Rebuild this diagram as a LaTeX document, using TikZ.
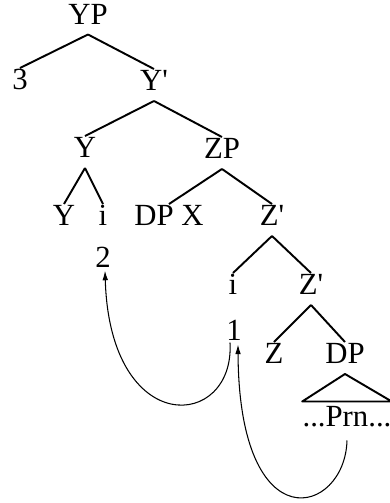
\documentclass[tikz,border=0pt]{standalone}
\usepackage{fontspec}
\setmainfont{Liberation Serif}
\usetikzlibrary{arrows.meta}

\begin{document}
\begin{tikzpicture}[
		catnode/.style={
		% The size:
		inner xsep=1pt,
		inner ysep=5.5pt,
		text height=0.68em,
		text depth=0pt,
		% Font
		font=\fontsize{17.5}{21}\selectfont
		},
		wordnode/.style={
		catnode,
		inner xsep=0pt,
		inner ysep=7.5pt
		},
		branch/.style={line width=1.1pt, line join=round},
		moveline/.style={line width=0.6pt, -{Latex[length=5.5pt,width=3.2pt]}}
	]
	\useasboundingbox (0,0) rectangle (7.78,10.06);

	\node (YP)[catnode] at (1.76,9.69) {YP};
	\node (three)[catnode] at (0.40,8.38) {3};
	\node (Ybar)[catnode] at (3.08,8.36) {Y\textquotesingle};
	\node (Y)[catnode] at (1.70,7.02) {Y};
	\node (ZP)[catnode] at (4.44,7.00) {ZP};
	\node (Yhead)[catnode] at (1.28,5.66) {Y};
	\node (iY)[catnode] at (2.06,5.66) {i};
	\node (DPX)[catnode] at (3.38,5.66) {DP X};
	\node (Zbar)[catnode] at (5.44,5.66) {Z\textquotesingle};
	\node (two)[catnode] at (2.06,4.82) {2};
	\node (iZ)[catnode] at (4.66,4.28) {i};
	\node (Zbarlow)[catnode] at (6.22,4.28) {Z\textquotesingle};
	\node (one)[catnode] at (4.68,3.36) {1};
	\node (Z)[catnode] at (5.48,2.90) {Z};
	\node (DP)[catnode] at (6.90,2.90) {DP};
	\node (Prn)[wordnode] at (6.94,1.64) {...Prn...};

	\draw [branch] (YP.south) -- (three.north);
	\draw [branch] (YP.south) -- (Ybar.north);
	\draw [branch] (Ybar.south) -- (Y.north);
	\draw [branch] (Ybar.south) -- (ZP.north);
	\draw [branch] (Y.south) -- (Yhead.north);
	\draw [branch] (Y.south) -- (iY.north);
	\draw [branch] (ZP.south) -- (DPX.north);
	\draw [branch] (ZP.south) -- (Zbar.north);
	\draw [branch] (Zbar.south) -- (iZ.north);
	\draw [branch] (Zbar.south) -- (Zbarlow.north);
	\draw [branch] (Zbarlow.south) -- (Z.north);
	\draw [branch] (Zbarlow.south) -- (DP.north);
	\draw [branch] (DP.south) -- (Prn.north west) -- (Prn.north east) -- cycle;

	% movement arrows
	\draw [moveline] ([xshift=-0.08cm,yshift=-1pt]one.base) .. controls (4.70,1.46) and (2.20,1.26) .. ([xshift=0.04cm,yshift=-1.5pt]two.base);
	\draw [moveline] (Prn.south) .. controls (6.90,-0.24) and (4.78,-0.84) .. ([xshift=0.08cm,yshift=-2pt]one.base);
\end{tikzpicture}
\end{document}
